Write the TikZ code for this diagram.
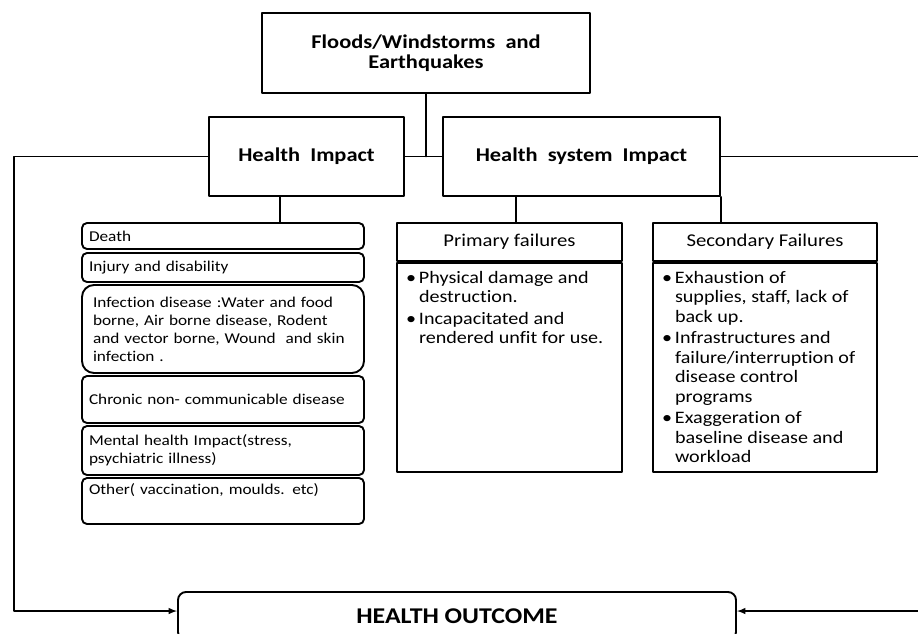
\documentclass[tikz,border=0pt]{standalone}
\usepackage{fontspec}
\setmainfont{Carlito}
\newfontfamily\widefont[FakeStretch=1.15,Ligatures=NoCommon]{Carlito}
\usetikzlibrary{arrows}

\newcommand{\bitem}[1]{\par\hangindent=14pt\hangafter=1\noindent\makebox[14pt][l]{\hspace{1pt}\textbullet}#1}

\tikzset{
  hbox/.style={draw,align=center,font=\widefont\bfseries\fontsize{19.5}{20}\selectfont},
  item/.style={draw,rounded corners=5pt,text width=268pt,inner xsep=7pt,align=left,font=\widefont\fontsize{15}{18}\selectfont},
  fhead/.style={draw,minimum height=38pt,font=\widefont\fontsize{18}{20}\selectfont},
  fbody/.style={draw,inner xsep=8pt,inner ysep=8pt,font=\widefont\fontsize{17.5}{19.5}\selectfont},
  outbox/.style={draw,rounded corners=8pt,font=\widefont\bfseries\fontsize{22.5}{24}\selectfont}
}

\begin{document}
\begin{tikzpicture}[x=1pt,y=-1pt,line width=1.9pt,line cap=round,line join=round]
\useasboundingbox (0,0) rectangle (918,633);
\clip (0,0) rectangle (918,633);
\node[hbox,minimum width=328pt,minimum height=80pt] (flood) at (426,53) {Floods/Windstorms\ \ and\\Earthquakes};
\node[hbox,minimum width=195pt,minimum height=79pt] (hi) at (306.5,156.5) {Health\ \ Impact};
\node[hbox,minimum width=277pt,minimum height=79pt] (hsi) at (581.5,156.5) {Health\ \ system\ \ Impact};
\draw (flood.south) -- (flood.south |- hi.east);
\draw (hi.east) -- (hsi.west);

\node[item,minimum height=26pt] (death) at (223,236) {Death};
\node[item,minimum height=29pt] (injury) at (223,267.5) {Injury and disability};
\node[item,minimum height=88pt,rounded corners=12pt,text width=260pt,inner xsep=11pt] (infect) at (223,329)
  {Infection disease :Water and food\\borne, Air borne disease, Rodent\\and vector borne, Wound\ \ and skin\\infection .};
\node[item,minimum height=47pt] (chronic) at (223,399.5) {Chronic non- communicable disease};
\node[item,minimum height=49pt] (mental) at (223,450.5) {Mental health Impact(stress,\\psychiatric illness)};
\node[item,minimum height=46pt] (other) at (223,501) {Other( vaccination, moulds. etc)\\\strut};
\draw ([xshift=57pt]death.north) -- ([xshift=57pt]death.north |- hi.south);

\node[fhead,minimum width=225pt] (primhead) at (509.5,242) {Primary failures};
\node[fbody,anchor=north] (primbody) at (primhead.south) {\parbox[c][193pt][t]{209pt}{\raggedright\parskip=2pt
  \bitem{Physical damage and\newline destruction.}
  \bitem{Incapacitated and\newline rendered unfit for use.}}};
\node[fhead,minimum width=224pt] (sechead) at (765,242) {Secondary Failures};
\node[fbody,anchor=north] (secbody) at (sechead.south) {\parbox[c][193pt][t]{208pt}{\raggedright\parskip=2pt
  \bitem{Exhaustion of\newline supplies, staff, lack of\newline back up.}
  \bitem{Infrastructures and\newline failure/interruption of\newline disease control\newline programs}
  \bitem{Exaggeration of\newline baseline disease and\newline workload}}};
\draw ([xshift=6.5pt]primhead.north) -- ([xshift=6.5pt]primhead.north |- hsi.south);
\draw (sechead.north -| hsi.south east) -- (hsi.south east);

\node[outbox,minimum width=558pt,minimum height=48pt] (outcome) at (457,616) {HEALTH OUTCOME};
\coordinate (lcorner) at (14,611);
\coordinate (rcorner) at (930,611);
\draw[-latex] (hi.west) -| (lcorner) -- (lcorner -| outcome.west);
\draw[-latex] (hsi.east) -| (rcorner) -- (rcorner -| outcome.east);
\end{tikzpicture}
\end{document}
